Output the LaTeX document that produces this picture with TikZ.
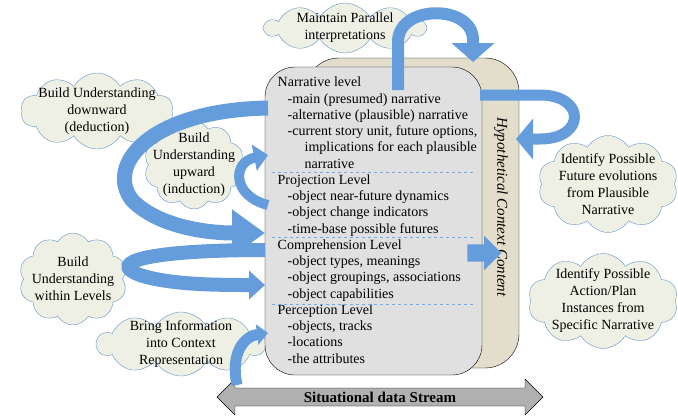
\documentclass[tikz,border=0pt]{standalone}
\usepackage{fontspec}
\setmainfont{Liberation Serif}
\usetikzlibrary{shapes.symbols,shapes.arrows,arrows.meta}

\definecolor{cloudfill}{RGB}{238,240,227}
\definecolor{cloudline}{RGB}{96,146,204}
\definecolor{flowblue}{RGB}{100,156,220}
\definecolor{sepblue}{RGB}{120,170,225}
\definecolor{levelgray}{RGB}{224,224,224}
\definecolor{hyptan}{RGB}{226,222,203}
\definecolor{streamgray}{RGB}{176,176,176}

\tikzset{
    thought/.style={cloud, cloud puffs=10, cloud puff arc=120, cloud ignores aspect,
        draw=cloudline, fill=cloudfill, inner sep=0pt},
    lvltext/.style={anchor=north west, align=left, inner sep=0pt,
        font=\fontsize{14}{16.26}\selectfont},
    sep/.style={dashed, draw=sepblue, thick},
    flow/.style={draw=flowblue},
}

\begin{document}
\begin{tikzpicture}[x=1pt, y=-1pt, font=\fontsize{14}{17}\selectfont]
    \useasboundingbox (0,0) rectangle (678,416);

    % clouds
    \node[thought, minimum width=160pt, minimum height=50pt,
        label={[align=center]center:Maintain Parallel\\interpretations}] (parallel) at (345,28) {};
    \node[thought, minimum width=152pt, minimum height=76pt,
        label={[align=center]center:Build Understanding\\downward\\(deduction)}] (deduct) at (97,111) {};
    \node[thought, minimum width=100pt, minimum height=88pt,
        label={[align=center]center:Build\\Understanding\\upward\\(induction)}] (induct) at (194,165) {};
    \node[thought, minimum width=140pt, minimum height=97pt,
        label={[align=center]center:Identify Possible\\Future evolutions\\from Plausible\\Narrative}] (future) at (608,184) {};
    \node[thought, minimum width=108pt, minimum height=92pt,
        label={[align=center]center:Build\\Understanding\\within Levels}] (within) at (73,279) {};
    \node[thought, minimum width=150pt, minimum height=95pt,
        label={[align=center]center:Identify Possible\\Action/Plan\\Instances from\\Specific Narrative}] (action) at (603,301) {};
    \node[thought, minimum width=168pt, minimum height=64pt,
        label={[align=center]center:Bring Information\\into Context\\Representation}] (bring) at (181,344) {};

    % boxes
    \node[draw, fill=hyptan, rounded corners=34pt, minimum width=214pt, minimum height=310pt] (hypo) at (412,213) {};
    \node[draw, fill=levelgray, rounded corners=30pt, minimum width=217pt, minimum height=308pt] (levels) at (373.5,221) {};
    \node[rotate=-90, font=\fontsize{15}{18}\itshape] (hyptext) at (501,207) {Hypothetical Context Content};

    % level texts
    \node[lvltext] (narr) at (277.5,77) {Narrative level\\
        \hspace*{10pt}-main (presumed) narrative\\
        \hspace*{10pt}-alternative (plausible) narrative\\
        \hspace*{10pt}-current story unit, future options,\\
        \hspace*{27pt}implications for each plausible\\
        \hspace*{27pt}narrative};
    \node[lvltext] (proj) at (277.5,174.5) {Projection Level\\
        \hspace*{10pt}-object near-future dynamics\\
        \hspace*{10pt}-object change indicators\\
        \hspace*{10pt}-time-base possible futures};
    \node[lvltext] (comp) at (277.5,239.5) {Comprehension Level\\
        \hspace*{10pt}-object types, meanings\\
        \hspace*{10pt}-object groupings, associations\\
        \hspace*{10pt}-object capabilities};
    \node[lvltext] (perc) at (277.5,304.5) {Perception Level\\
        \hspace*{10pt}-objects, tracks\\
        \hspace*{10pt}-locations\\
        \hspace*{10pt}-the attributes};
    \draw[sep] (272,172) -- (474,172);
    \draw[sep] (272,237.5) -- (474,237.5);
    \draw[sep] (272,304) -- (474,304);

    % data stream
    \node[double arrow, draw, fill=streamgray, minimum height=326pt, inner xsep=2pt, inner ysep=3.5pt,
        double arrow head extend=9pt, font=\fontsize{15}{17}\bfseries] (stream) at (380,397) {Situational data Stream};

    % arrows
    \coordinate (parA) at (398,90);
    \coordinate (hypA) at (473,62);
    \draw[flow, line width=12pt, -{Triangle[width=42pt,length=19pt]}]
        (parA) -- (398,42) .. controls (398,4) and (473,4) .. (473,40) -- (hypA);
    \coordinate (futA) at (480,95);
    \coordinate (futB) at (516,139);
    \draw[flow, line width=11pt, -{Triangle[width=40pt,length=17pt]}]
        (futA) -- (540,95) .. controls (586,95) and (586,139) .. (540,139) -- (futB);
    \coordinate (dedA) at (268,108);
    \coordinate (dedB) at (265,233);
    \draw[flow, line width=15pt, -{Triangle[width=45pt,length=33pt]}]
        (dedA) .. controls (150,110) and (105,165) .. (132,200) .. controls (157,226) and (205,233) .. (dedB);
    \coordinate (indA) at (268,205);
    \coordinate (indB) at (268,155);
    \draw[flow, line width=10pt, -{Triangle[width=26pt,length=14pt]}]
        (indA) .. controls (232,196) and (232,162) .. (indB);
    \coordinate (witA) at (265,250);
    \coordinate (witB) at (265,285);
    \draw[flow, line width=14pt, -{Triangle[width=28pt,length=16pt]}]
        (witA) .. controls (150,250) and (105,262) .. (140,275) .. controls (170,285) and (220,285) .. (witB);
    \coordinate (briA) at (237,385);
    \coordinate (briB) at (268,333);
    \draw[flow, line width=11pt, -{Triangle[width=20pt,length=11pt]}]
        (briA) .. controls (230,352) and (245,336) .. (briB);
    \node[single arrow, fill=flowblue, minimum height=34pt, inner xsep=0pt, inner ysep=8.5pt,
        single arrow head extend=8.5pt] (push) at (480,253) {};
\end{tikzpicture}
\end{document}
